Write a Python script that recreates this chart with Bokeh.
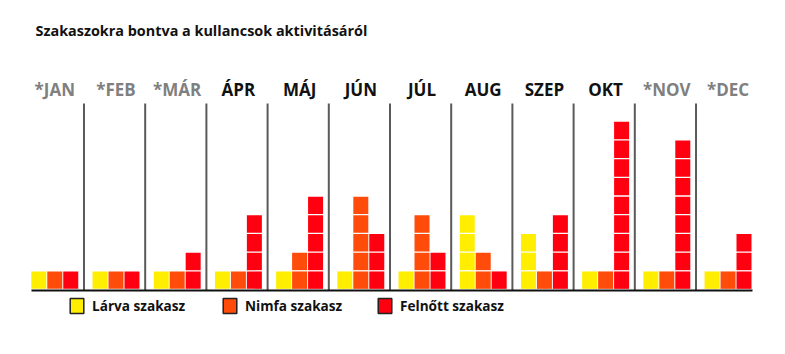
from bokeh.plotting import figure
from bokeh.models import Range1d, ColumnDataSource, Label, Legend, LegendItem
from bokeh.core.properties import value
from bokeh.embed import file_html
from bokeh.resources import INLINE

# ---- data ----
months = ["*JAN", "*FEB", "*MÁR", "ÁPR", "MÁJ", "JÚN", "JÚL", "AUG", "SZEP", "OKT", "*NOV", "*DEC"]
larva = [1, 1, 1, 1, 1, 1, 1, 4, 3, 1, 1, 1]
nimfa = [1, 1, 1, 1, 2, 5, 4, 2, 1, 1, 1, 1]
felnott = [1, 1, 2, 4, 5, 3, 2, 1, 4, 9, 8, 3]
stage_names = ["Lárva szakasz", "Nimfa szakasz", "Felnőtt szakasz"]
title_text = "Szakaszokra bontva a kullancsok aktivitásáról"

# ---- style ----
colors = ["#FFEE00", "#FF4C0A", "#FF0010"]
offsets = [-0.261, 0.0, 0.261]
FONT = "Open Sans"

p = figure(width=785, height=354, x_range=Range1d(-0.887, 11.939),
           y_range=Range1d(-3.476, 15.454), x_axis_type=None, y_axis_type=None,
           toolbar_location=None, output_backend="svg", min_border=0,
           outline_line_color=None, background_fill_color="white",
           border_fill_color="white")
p.grid.visible = False

# blocks
series = [larva, nimfa, felnott]
for s, vals in enumerate(series):
    xs, ys = [], []
    for i, n in enumerate(vals):
        for k in range(n):
            xs.append(i + offsets[s])
            ys.append(k + 0.5)
    p.rect(x=xs, y=ys, width=15, height=17.4, width_units="screen",
           height_units="screen", fill_color=colors[s], line_color=None)

# separators
n = len(months)
sep_x = [i + 0.477 for i in range(n - 1)]
p.segment(x0=sep_x, y0=[-0.05] * (n - 1), x1=sep_x, y1=[9.95] * (n - 1),
          line_color="#5a5a5a", line_width=2)

# baseline
p.segment(x0=[-0.381], y0=[-0.06], x1=[n - 1 + 0.40], y1=[-0.06],
          line_color="#111111", line_width=2)

# month labels
lab_colors = ["#808080" if m.startswith("*") else "#111111" for m in months]
src = ColumnDataSource(dict(x=list(range(n)), y=[10.72] * n, text=months, color=lab_colors))
p.text(x="x", y="y", text="text", source=src, text_color="color",
       text_align="center", text_baseline="alphabetic",
       text_font=value(FONT), text_font_style="bold", text_font_size="17px")

# title
p.add_layout(Label(x=35, y=324, x_units="screen", y_units="screen", text=title_text,
                   text_font=FONT, text_font_style="bold", text_font_size="14.4px",
                   text_color="#111111", text_baseline="alphabetic"))

# legends (swatch renderers placed outside the visible range)
legend_x = [68, 221, 376]
for s in range(3):
    r = p.rect(x=[-50], y=[-50], width=1, height=1, fill_color=colors[s],
               line_color="#222222", line_width=1.5)
    lg = Legend(items=[LegendItem(label=stage_names[s], renderers=[r])],
                location=(legend_x[s], 39), orientation="horizontal",
                glyph_width=17, glyph_height=19, label_standoff=7,
                padding=0, margin=0, spacing=0,
                border_line_alpha=0, background_fill_alpha=0,
                label_text_font=FONT, label_text_font_style="bold",
                label_text_font_size="13.6px", label_text_color="#111111")
    p.add_layout(lg)

open("out.html", "w").write(file_html(p, INLINE))
